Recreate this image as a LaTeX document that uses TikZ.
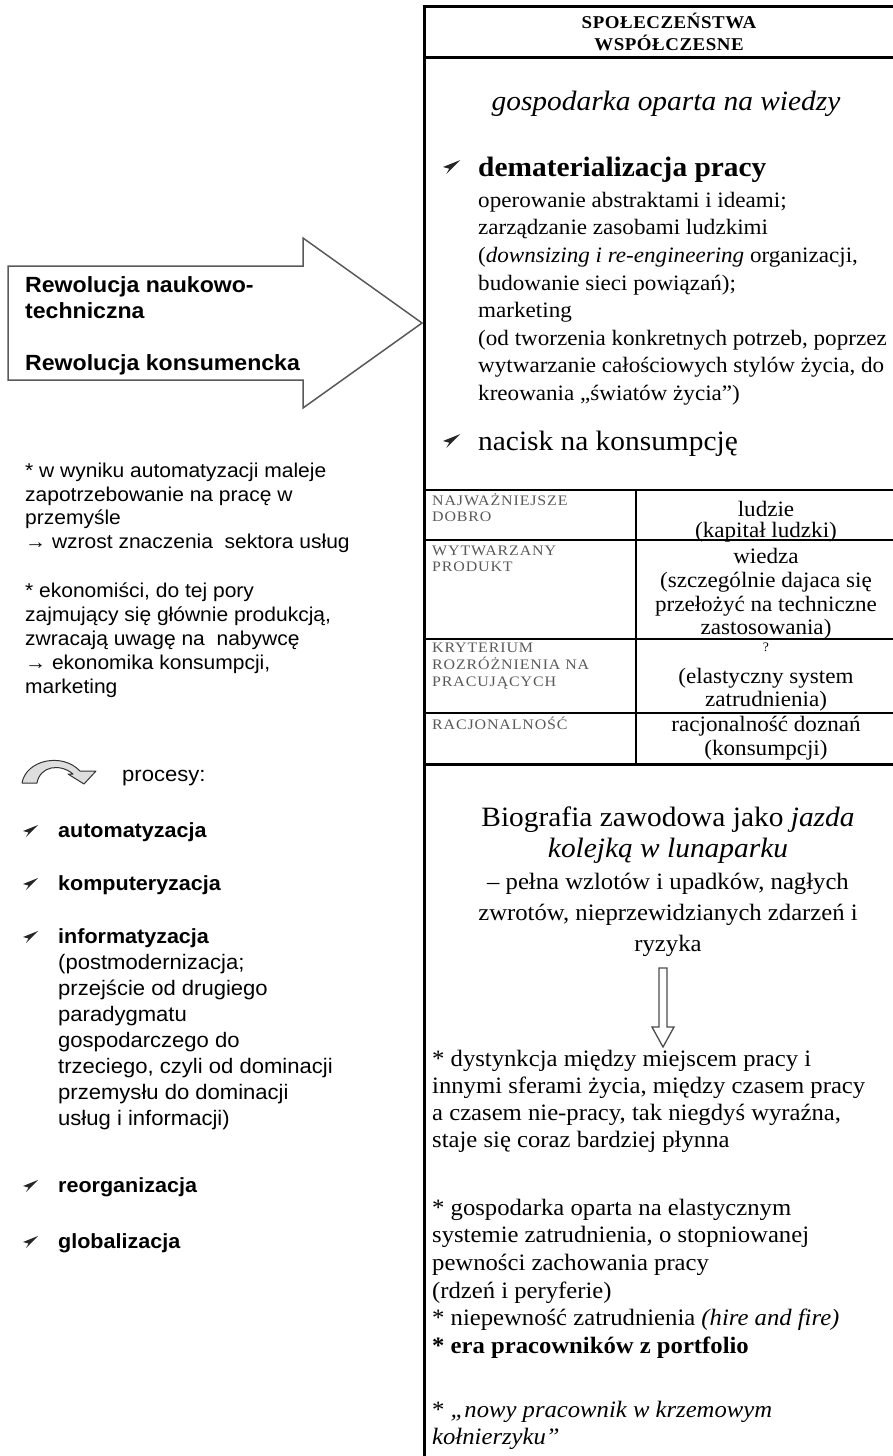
\documentclass[tikz,border=0pt]{standalone}
\usepackage{fontspec}
\setmainfont{Liberation Serif}[FakeStretch=1.05]
\newfontfamily\sansf{Liberation Sans}[FakeStretch=1.05]
\newfontfamily\tabf{Liberation Serif}[LetterSpace=6,FakeStretch=1.1]
\newfontfamily\hdrf{Liberation Serif}[LetterSpace=3,FakeStretch=1.05]
\newcommand\dartat[4]{\fill[bul,shift={(#2,#3)},scale=#4] (8,-6) -- (-7,0) -- (-1.5,1.5) -- (-4,6) -- cycle; \coordinate (#1) at (#2,#3);}
\begin{document}
\begin{tikzpicture}[x=1pt,y=-1pt,
  sansl/.style={font=\sansf\fontsize{21}{24}\selectfont,anchor=base west,inner sep=0pt},
  sanss/.style={font=\sansf\fontsize{20}{24}\selectfont,anchor=base west,inner sep=0pt},
  sansitem/.style={font=\sansf\bfseries\fontsize{20.5}{24}\selectfont,anchor=base west,inner sep=0pt},
  sansbd/.style={font=\sansf\bfseries\fontsize{22}{26}\selectfont,anchor=base west,inner sep=0pt},
  toptx/.style={font=\fontsize{22}{27}\selectfont,anchor=base west,inner sep=0pt},
  bottx/.style={font=\fontsize{23.5}{27}\selectfont,anchor=base west,inner sep=0pt},
  bottbf/.style={font=\bfseries\fontsize{23.5}{27}\selectfont,anchor=base west,inner sep=0pt},
  midtx/.style={font=\fontsize{23.5}{27}\selectfont,anchor=base,inner sep=0pt},
  bigtx/.style={font=\fontsize{28}{32}\selectfont,inner sep=0pt},
  bigit/.style={font=\itshape\fontsize{28}{32}\selectfont,inner sep=0pt},
  bigbf/.style={font=\bfseries\fontsize{28}{32}\selectfont,inner sep=0pt},
  hdrtx/.style={font=\hdrf\bfseries\fontsize{18}{20}\selectfont,anchor=base,inner sep=0pt},
  tabl/.style={font=\tabf\fontsize{14.5}{16}\selectfont,text=black!65,anchor=base west,inner sep=0pt},
  tabr/.style={font=\fontsize{22}{24}\selectfont,anchor=base,inner sep=0pt},
  tabq/.style={font=\fontsize{13}{15}\selectfont,anchor=base,inner sep=0pt},
  bul/.style={fill=black!85,draw=none},
  frameline/.style={line width=3pt},
  thinline/.style={line width=1.4pt},
  blockarrow/.style={draw=black!65,line width=1.5pt,fill=white,line join=miter}
]
\useasboundingbox (0,0) rectangle (893,1456);
\clip (0,0) rectangle (893,1456);

% ---------- left block arrow ----------
\draw[blockarrow] (8,266) -- (303,266) -- (303,238) -- (422,323) -- (303,408) -- (303,380) -- (8,380) -- cycle;
\node[sansbd] (arw1) at (25,292) {Rewolucja naukowo-};
\node[sansbd] (arw2) at (25,318) {techniczna};
\node[sansbd] (arw3) at (25,370) {Rewolucja konsumencka};

% ---------- left notes ----------
\node[sanss] (n1) at (25,477) {* w wyniku automatyzacji maleje};
\node[sanss] (n2) at (25,501) {zapotrzebowanie na pracę w};
\node[sanss] (n3) at (25,524) {przemyśle};
\node[sanss] (n4) at (25,548) {→ wzrost znaczenia\ \ sektora usług};
\node[sanss] (n5) at (25,597) {* ekonomiści, do tej pory};
\node[sanss] (n6) at (25,621) {zajmujący się głównie produkcją,};
\node[sanss] (n7) at (25,645) {zwracają uwagę na\ \ nabywcę};
\node[sanss] (n8) at (25,669) {→ ekonomika konsumpcji,};
\node[sanss] (n9) at (25,693) {marketing};

% curved arrow icon
\filldraw[fill=black!13,draw=black!80,line width=1pt,line join=round]
  (22,783) .. controls (26,760) and (62,752) .. (80,771) -- (96,771) -- (84,784) -- (68,774) -- (73,774)
  .. controls (60,763) and (40,766) .. (37,783) -- cycle;
\node[sansl] (proc) at (122,781) {procesy:};

% bulleted processes
\dartat{b1}{30}{831}{1}
\node[sansitem] (p1) at (58,837) {automatyzacja};
\dartat{b2}{30}{884}{1}
\node[sansitem] (p2) at (58,890) {komputeryzacja};
\dartat{b3}{30}{937}{1}
\node[sansitem] (p3) at (58,943) {informatyzacja};
\node[sansl] (p3a) at (58,969) {(postmodernizacja;};
\node[sansl] (p3b) at (58,995) {przejście od drugiego};
\node[sansl] (p3c) at (58,1021) {paradygmatu};
\node[sansl] (p3d) at (58,1047) {gospodarczego do};
\node[sansl] (p3e) at (58,1073) {trzeciego, czyli od dominacji};
\node[sansl] (p3f) at (58,1099) {przemysłu do dominacji};
\node[sansl] (p3g) at (58,1125) {usług i informacji)};
\dartat{b4}{30}{1186}{1}
\node[sansitem] (p4) at (58,1192) {reorganizacja};
\dartat{b5}{30}{1242}{1}
\node[sansitem] (p5) at (58,1248) {globalizacja};

% ---------- right box ----------
\draw[frameline] (424,5) -- (424,1470);
\draw[frameline] (422.5,6.5) -- (910,6.5);
\draw[frameline] (424,57) -- (910,57);
\node[hdrtx] (h1) at (669,28) {SPOŁECZEŃSTWA};
\node[hdrtx] (h2) at (669,50) {WSPÓŁCZESNE};

\node[bigit,anchor=base] (g1) at (666,110) {gospodarka oparta na wiedzy};

\dartat{rb1}{451}{167}{1.15}
\node[bigbf,anchor=base west] (d0) at (478,176) {dematerializacja pracy};
\node[toptx] (d1) at (478,207) {operowanie abstraktami i ideami;};
\node[toptx] (d2) at (478,234) {zarządzanie zasobami ludzkimi};
\node[toptx] (d3) at (478,262) {(\textit{downsizing i re-engineering} organizacji,};
\node[toptx] (d4) at (478,290) {budowanie sieci powiązań);};
\node[toptx] (d5) at (478,317) {marketing};
\node[toptx] (d6) at (478,345) {(od tworzenia konkretnych potrzeb, poprzez};
\node[toptx] (d7) at (478,372) {wytwarzanie całościowych stylów życia, do};
\node[toptx] (d8) at (478,400) {kreowania „światów życia”)};

\dartat{rb2}{451}{441}{1.15}
\node[bigtx,anchor=base west] (k0) at (478,450) {nacisk na konsumpcję};

% table
\draw[thinline] (424,490) -- (910,490);
\draw[thinline] (424,540) -- (910,540);
\draw[thinline] (424,639) -- (910,639);
\draw[thinline] (424,713) -- (910,713);
\draw[frameline] (424,764) -- (910,764);
\draw[thinline] (636,490) -- (636,764);

\node[tabl] (t1a) at (432,505) {NAJWAŻNIEJSZE};
\node[tabl] (t1b) at (432,521) {DOBRO};
\node[tabl] (t2a) at (432,555) {WYTWARZANY};
\node[tabl] (t2b) at (432,571) {PRODUKT};
\node[tabl] (t3a) at (432,652) {KRYTERIUM};
\node[tabl] (t3b) at (432,669) {ROZRÓŻNIENIA NA};
\node[tabl] (t3c) at (432,686) {PRACUJĄCYCH};
\node[tabl] (t4a) at (432,729) {RACJONALNOŚĆ};

\node[tabr] (v1a) at (766,516) {ludzie};
\node[tabr] (v1b) at (766,537) {(kapitał ludzki)};
\node[tabr] (v2a) at (766,563) {wiedza};
\node[tabr] (v2b) at (766,587) {(szczególnie dajaca się};
\node[tabr] (v2c) at (766,611) {przełożyć na techniczne};
\node[tabr] (v2d) at (766,634) {zastosowania)};
\node[tabq] (v3a) at (766,651) {?};
\node[tabr] (v3b) at (766,683) {(elastyczny system};
\node[tabr] (v3c) at (766,706) {zatrudnienia)};
\node[tabr] (v4a) at (766,731) {racjonalność doznań};
\node[tabr] (v4b) at (766,755) {(konsumpcji)};

% biography
\node[bigtx,anchor=base] (bio1) at (668,826) {Biografia zawodowa jako \textit{jazda}};
\node[bigit,anchor=base] (bio2) at (668,857) {kolejką w lunaparku};
\node[midtx] (bio3) at (668,889) {– pełna wzlotów i upadków, nagłych};
\node[midtx] (bio4) at (668,920) {zwrotów, nieprzewidzianych zdarzeń i};
\node[midtx] (bio5) at (668,951) {ryzyka};

\draw[draw=black!70,line width=1.3pt,fill=white,line join=miter]
  (659,968) -- (667,968) -- (667,1027) -- (674,1027) -- (663,1047) -- (652,1027) -- (659,1027) -- cycle;

\node[bottx] (e1) at (432,1066) {* dystynkcja między miejscem pracy i};
\node[bottx] (e2) at (432,1093) {innymi sferami życia, między czasem pracy};
\node[bottx] (e3) at (432,1120) {a czasem nie-pracy, tak niegdyś wyraźna,};
\node[bottx] (e4) at (432,1147) {staje się coraz bardziej płynna};
\node[bottx] (f1) at (432,1215) {* gospodarka oparta na elastycznym};
\node[bottx] (f2) at (432,1242) {systemie zatrudnienia, o stopniowanej};
\node[bottx] (f3) at (432,1270) {pewności zachowania pracy};
\node[bottx] (f4) at (432,1298) {(rdzeń i peryferie)};
\node[bottx] (f5) at (432,1325) {* niepewność zatrudnienia \textit{(hire and fire)}};
\node[bottbf] (f6) at (432,1353) {* era pracowników z portfolio};
\node[bottx] (f7) at (432,1417) {* \textit{„nowy pracownik w krzemowym}};
\node[bottx] (f8) at (432,1444) {\textit{kołnierzyku”}};
\end{tikzpicture}
\end{document}
